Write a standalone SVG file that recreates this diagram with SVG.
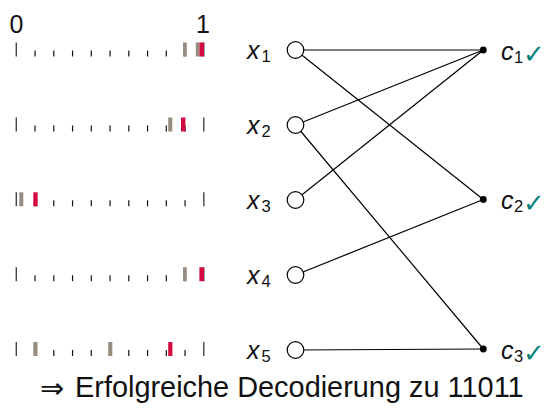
<svg xmlns="http://www.w3.org/2000/svg" width="547" height="410" viewBox="0 0 547 410">
<style>
  .txt { font-family: "Liberation Sans", Arial, sans-serif; fill: #111; }
  .it { font-style: italic; font-size: 25px; }
  .sub { font-size: 16.5px; }
  .tall { stroke: #444; stroke-width: 1.4; }
  .small { stroke: #111; stroke-width: 1.2; }
  .gray { fill: #978c80; }
  .red { fill: #d20a3f; }
  .edge { stroke: #000; stroke-width: 1.2; fill: none; }
  .var { fill: #fff; stroke: #000; stroke-width: 1.2; }
  .chk { fill: #00827a; font-family: "DejaVu Sans", sans-serif; font-size: 26px; }
</style>
<defs>
  <g id="scale">
    <line class="tall" x1="16.3" y1="-14" x2="16.3" y2="0"/>
    <line class="small" x1="35.05" y1="-6" x2="35.05" y2="0"/>
    <line class="small" x1="53.8" y1="-6" x2="53.8" y2="0"/>
    <line class="small" x1="72.55" y1="-6" x2="72.55" y2="0"/>
    <line class="small" x1="91.3" y1="-6" x2="91.3" y2="0"/>
    <line class="small" x1="110.05" y1="-6" x2="110.05" y2="0"/>
    <line class="small" x1="128.8" y1="-6" x2="128.8" y2="0"/>
    <line class="small" x1="147.55" y1="-6" x2="147.55" y2="0"/>
    <line class="small" x1="166.3" y1="-6" x2="166.3" y2="0"/>
    <line class="small" x1="185.05" y1="-6" x2="185.05" y2="0"/>
    <line class="tall" x1="203.8" y1="-14" x2="203.8" y2="0"/>
  </g>
</defs>
<rect width="547" height="410" fill="#fff"/>

<g id="axis-labels">
  <text class="txt" x="16.5" y="33" font-size="25" text-anchor="middle">0</text>
  <text class="txt" x="203" y="33" font-size="25" text-anchor="middle">1</text>
</g>

<g id="scale1" transform="translate(0,56.5)">
  <use href="#scale"/>
  <rect class="gray" x="183" y="-14" width="3.8" height="14"/>
  <rect class="gray" x="195.8" y="-14" width="3.6" height="14"/>
  <rect class="red" x="199.4" y="-14" width="4.6" height="14"/>
</g>
<g id="scale2" transform="translate(0,131.5)">
  <use href="#scale"/>
  <rect class="gray" x="168.2" y="-14" width="4.1" height="14"/>
  <rect class="red" x="181" y="-14" width="4.4" height="14"/>
</g>
<g id="scale3" transform="translate(0,206.3)">
  <use href="#scale"/>
  <rect class="gray" x="19.3" y="-14" width="4" height="14"/>
  <rect class="red" x="33.3" y="-14" width="4.4" height="14"/>
</g>
<g id="scale4" transform="translate(0,281.2)">
  <use href="#scale"/>
  <rect class="gray" x="183" y="-14" width="3.8" height="14"/>
  <rect class="red" x="199.4" y="-14" width="4.6" height="14"/>
</g>
<g id="scale5" transform="translate(0,356)">
  <use href="#scale"/>
  <rect class="gray" x="33.3" y="-14" width="4.2" height="14"/>
  <rect class="gray" x="108.2" y="-14" width="4.1" height="14"/>
  <rect class="red" x="168.2" y="-14" width="4.2" height="14"/>
</g>

<g id="connectors">
  <line class="edge" x1="295.5" y1="50" x2="483.3" y2="50"/>
  <line class="edge" x1="295.5" y1="50" x2="483.3" y2="199.5"/>
  <line class="edge" x1="295.5" y1="125" x2="483.3" y2="50"/>
  <line class="edge" x1="295.5" y1="125" x2="483.3" y2="349"/>
  <line class="edge" x1="295.5" y1="200" x2="483.3" y2="50"/>
  <line class="edge" x1="295.5" y1="275" x2="483.3" y2="199.5"/>
  <line class="edge" x1="295.5" y1="350" x2="483.3" y2="349"/>
</g>

<g id="x1">
  <circle class="var" cx="295.5" cy="50" r="8.3"/>
  <text class="txt it" x="247" y="58.5">x</text>
  <text class="txt sub" x="261.5" y="61.5">1</text>
</g>
<g id="x2">
  <circle class="var" cx="295.5" cy="125" r="8.3"/>
  <text class="txt it" x="247" y="133.5">x</text>
  <text class="txt sub" x="261.5" y="136.5">2</text>
</g>
<g id="x3">
  <circle class="var" cx="295.5" cy="200" r="8.3"/>
  <text class="txt it" x="247" y="208.5">x</text>
  <text class="txt sub" x="261.5" y="211.5">3</text>
</g>
<g id="x4">
  <circle class="var" cx="295.5" cy="275" r="8.3"/>
  <text class="txt it" x="247" y="283.5">x</text>
  <text class="txt sub" x="261.5" y="286.5">4</text>
</g>
<g id="x5">
  <circle class="var" cx="295.5" cy="350" r="8.3"/>
  <text class="txt it" x="247" y="358.5">x</text>
  <text class="txt sub" x="261.5" y="361.5">5</text>
</g>

<g id="c1">
  <circle cx="483.3" cy="50" r="3.4" fill="#000"/>
  <text class="txt it" x="501" y="59.5">c</text>
  <text class="txt sub" x="514" y="62.5">1</text>
  <text class="chk" x="523" y="62.5">✓</text>
</g>
<g id="c2">
  <circle cx="483.3" cy="199.5" r="3.4" fill="#000"/>
  <text class="txt it" x="501" y="209">c</text>
  <text class="txt sub" x="514" y="212">2</text>
  <text class="chk" x="523" y="212">✓</text>
</g>
<g id="c3">
  <circle cx="483.3" cy="349" r="3.4" fill="#000"/>
  <text class="txt it" x="501" y="358.5">c</text>
  <text class="txt sub" x="514" y="361.5">3</text>
  <text class="chk" x="523" y="361.5">✓</text>
</g>

<g id="result">
  <text x="40" y="398" font-size="29" font-family="DejaVu Sans, sans-serif" fill="#111">⇒</text>
  <text class="txt" x="75" y="397" font-size="28.9">Erfolgreiche Decodierung zu 11011</text>
</g>
</svg>
